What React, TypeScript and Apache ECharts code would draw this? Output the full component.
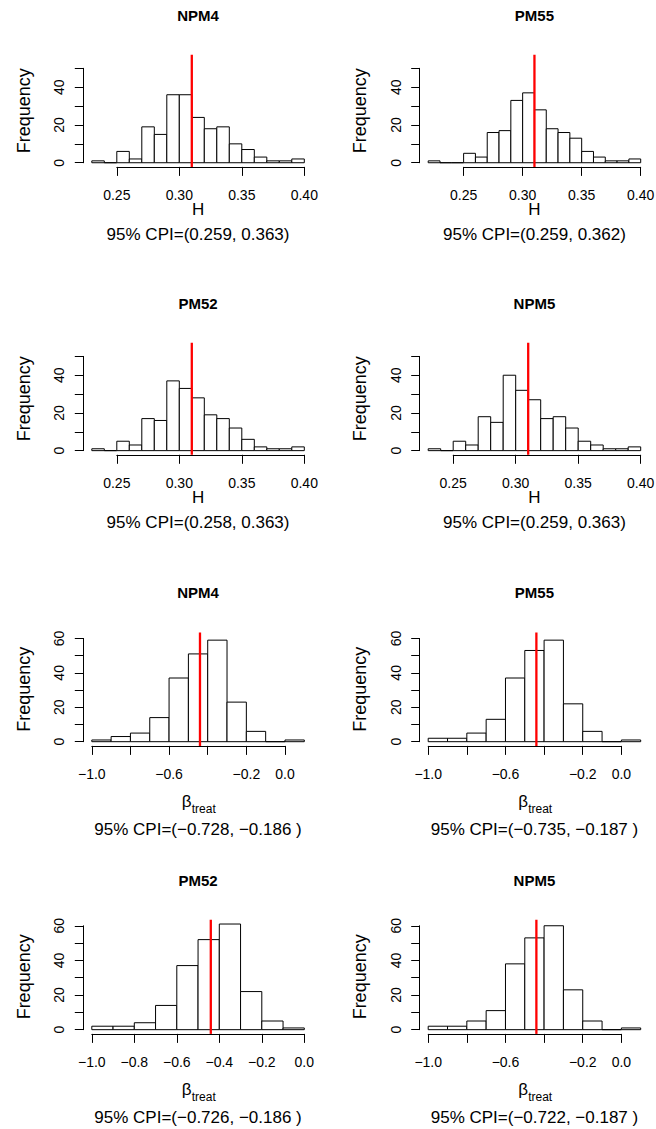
import React, { useEffect, useRef } from "react";
import * as echarts from "echarts";

// ---------- data ----------
const H_BREAKS_023 = [0.23, 0.24, 0.25, 0.26, 0.27, 0.28, 0.29, 0.3, 0.31, 0.32, 0.33, 0.34, 0.35, 0.36, 0.37, 0.38, 0.39, 0.4];
const H_BREAKS_022 = [0.22, 0.23, 0.24, 0.25, 0.26, 0.27, 0.28, 0.29, 0.3, 0.31, 0.32, 0.33, 0.34, 0.35, 0.36, 0.37, 0.38, 0.39, 0.4];
const B_BREAKS_01 = [-1.0, -0.9, -0.8, -0.7, -0.6, -0.5, -0.4, -0.3, -0.2, -0.1, 0.0, 0.1];
const B_BREAKS_00 = [-1.0, -0.9, -0.8, -0.7, -0.6, -0.5, -0.4, -0.3, -0.2, -0.1, 0.0];

const NPM4_H = [1, 0, 6, 2, 19, 15, 36, 36, 24, 18, 19, 10, 7, 3, 1, 1, 2];
const PM55_H = [1, 0, 0, 5, 3, 16, 17, 33, 37, 28, 18, 16, 13, 6, 3, 1, 1, 2];
const PM52_H = [1, 0, 5, 3, 17, 16, 37, 33, 28, 19, 17, 12, 6, 2, 1, 1, 2];
const NPM5_H = [1, 0, 5, 3, 18, 15, 40, 32, 27, 17, 18, 12, 5, 3, 1, 1, 2];

const NPM4_B = [1, 3, 5, 14, 37, 51, 59, 23, 6, 0, 1];
const PM55_B = [2, 2, 5, 13, 37, 53, 59, 22, 6, 0, 1];
const PM52_B = [2, 2, 4, 14, 37, 52, 61, 22, 5, 1];
const NPM5_B = [2, 2, 5, 11, 38, 53, 60, 23, 5, 0, 1];

const H_X_TICKS = [0.25, 0.3, 0.35, 0.4];
const B_X_TICKS = [-1.0, -0.8, -0.6, -0.4, -0.2, 0.0];
const B_X_LABELS_SPARSE = [-1.0, -0.6, -0.2, 0.0];
const H_Y_TICKS = [0, 10, 20, 30, 40, 50];
const H_Y_LABELS = [0, 20, 40];
const B_Y_TICKS = [0, 10, 20, 30, 40, 50, 60];
const B_Y_LABELS = [0, 20, 40, 60];
const H_YLIM = 55;
const B_YLIM = 61;
const H_TRUE = 0.31;
const B_TRUE = -0.44;

const PANEL_TITLES = ["NPM4", "PM55", "PM52", "NPM5", "NPM4", "PM55", "PM52", "NPM5"];
const PANEL_COUNTS = [NPM4_H, PM55_H, PM52_H, NPM5_H, NPM4_B, PM55_B, PM52_B, NPM5_B];
const PANEL_BREAKS = [H_BREAKS_023, H_BREAKS_022, H_BREAKS_023, H_BREAKS_023, B_BREAKS_01, B_BREAKS_01, B_BREAKS_00, B_BREAKS_01];
const CPI_LABELS = [
  "95% CPI=(0.259, 0.363)",
  "95% CPI=(0.259, 0.362)",
  "95% CPI=(0.258, 0.363)",
  "95% CPI=(0.259, 0.363)",
  "95% CPI=(\u22120.728, \u22120.186 )",
  "95% CPI=(\u22120.735, \u22120.187 )",
  "95% CPI=(\u22120.726, \u22120.186 )",
  "95% CPI=(\u22120.722, \u22120.187 )",
];

// ---------- layout ----------
const W = 656;
const HGT = 1129;
const COL_LEFT = [83.3, 419.7];
const PW = 229.5;
const ROW_TOP = [54.7, 342.8, 632.5, 919.8];
const ROW_BOTTOM = [166.9, 454.8, 745.9, 1033.9];
const FONT = '"Liberation Sans", Arial, Helvetica, sans-serif';

function fmt(v: number, d: number) {
  return v.toFixed(d).replace("-", "\u2212");
}

function buildOption() {
  const grid: any[] = [];
  const xAxis: any[] = [];
  const yAxis: any[] = [];
  const series: any[] = [];
  const graphic: any[] = [];

  for (let i = 0; i < 8; i++) {
    const row = Math.floor(i / 2);
    const col = i % 2;
    const isH = row < 2;
    const L = COL_LEFT[col];
    const T = ROW_TOP[row];
    const B = ROW_BOTTOM[row];
    const PH = B - T;
    const breaks = PANEL_BREAKS[i];
    const counts = PANEL_COUNTS[i];
    const xlo = breaks[0];
    const xhi = breaks[breaks.length - 1];
    const xr = xhi - xlo;
    const xmin = xlo - 0.04 * xr;
    const xmax = xhi + 0.04 * xr;
    const ylim = isH ? H_YLIM : B_YLIM;
    const ymin = -0.04 * ylim;
    const ymax = 1.04 * ylim;
    const px = (v: number) => L + ((v - xmin) / (xmax - xmin)) * PW;
    const py = (v: number) => T + ((ymax - v) / (ymax - ymin)) * PH;

    const xTicks = isH ? H_X_TICKS : B_X_TICKS;
    const xLabels = isH ? H_X_TICKS : i === 6 ? B_X_TICKS : B_X_LABELS_SPARSE;
    const yTicks = isH ? H_Y_TICKS : B_Y_TICKS;
    const yLabels = isH ? H_Y_LABELS : B_Y_LABELS;
    const digits = isH ? 2 : 1;

    const g0 = i * 3;
    // data grid
    grid.push({ left: L, top: T, width: PW, height: PH, outerBoundsMode: "none", containLabel: false });
    // x axis grid
    const xl = px(xTicks[0]);
    const xrgt = px(xTicks[xTicks.length - 1]);
    grid.push({ left: xl, top: T, width: xrgt - xl, height: PH, outerBoundsMode: "none", containLabel: false });
    // y axis grid
    const yt = py(yTicks[yTicks.length - 1]);
    const yb = py(0);
    grid.push({ left: L, top: yt, width: PW, height: yb - yt, outerBoundsMode: "none", containLabel: false });

    xAxis.push({ type: "value", gridIndex: g0, min: xmin, max: xmax, show: false });
    yAxis.push({ type: "value", gridIndex: g0, min: ymin, max: ymax, show: false });

    xAxis.push({
      type: "value",
      gridIndex: g0 + 1,
      position: "bottom",
      min: xTicks[0],
      max: xTicks[xTicks.length - 1],
      splitLine: { show: false },
      axisLine: { show: true, lineStyle: { color: "#000", width: 1 } },
      axisTick: { show: true, length: 9, customValues: xTicks, lineStyle: { color: "#000", width: 1 } },
      axisLabel: {
        show: true,
        customValues: xLabels,
        margin: 21.5,
        fontSize: 14,
        lineHeight: 14,
        fontFamily: FONT,
        color: "#000",
        formatter: (v: number) => fmt(v, digits),
      },
    });
    yAxis.push({ type: "value", gridIndex: g0 + 1, min: 0, max: 1, show: false });

    xAxis.push({ type: "value", gridIndex: g0 + 2, min: 0, max: 1, show: false });
    yAxis.push({
      type: "value",
      gridIndex: g0 + 2,
      position: "left",
      min: 0,
      max: yTicks[yTicks.length - 1],
      splitLine: { show: false },
      axisLine: { show: true, lineStyle: { color: "#000", width: 1 } },
      axisTick: { show: true, length: 8.5, customValues: yTicks, lineStyle: { color: "#000", width: 1 } },
      axisLabel: {
        show: true,
        customValues: yLabels,
        rotate: 90,
        margin: 17,
        fontSize: 14,
        lineHeight: 14,
        fontFamily: FONT,
        color: "#000",
        formatter: (v: number) => String(v),
      },
    });

    const binData = counts.map((c, k) => [breaks[k], breaks[k + 1], c]);
    series.push({
      type: "custom",
      xAxisIndex: g0,
      yAxisIndex: g0,
      data: binData,
      encode: { x: [0, 1], y: 2 },
      clip: false,
      renderItem: (params: any, api: any) => {
        const lo = api.value(0);
        const hi = api.value(1);
        const n = api.value(2);
        const p0 = api.coord([lo, 0]);
        const p1 = api.coord([hi, n]);
        return {
          type: "rect",
          shape: { x: p0[0], y: p1[1], width: p1[0] - p0[0], height: p0[1] - p1[1] },
          style: { fill: "#fff", stroke: "#000", lineWidth: 1 },
        };
      },
      z: 2,
    });
    const tv = isH ? H_TRUE : B_TRUE;
    series.push({
      type: "line",
      xAxisIndex: g0,
      yAxisIndex: g0,
      data: [
        [tv, ymin],
        [tv, ymax],
      ],
      symbol: "none",
      lineStyle: { color: "#ff0000", width: 2.3 },
      z: 5,
      silent: true,
    });

    const cx = L + PW / 2;
    graphic.push({
      type: "text",
      x: cx,
      y: T - 39.7,
      style: { text: PANEL_TITLES[i], fontSize: 15, fontWeight: "bold", fontFamily: FONT, fill: "#000", align: "center", verticalAlign: "middle" },
    });
    graphic.push({
      type: "text",
      x: L - 59.3,
      y: (T + B) / 2,
      rotation: Math.PI / 2,
      style: { text: "Frequency", fontSize: 18, fontFamily: FONT, fill: "#000", align: "center", verticalAlign: "middle" },
    });
    if (isH) {
      graphic.push({
        type: "text",
        x: cx,
        y: B + 42.8,
        style: { text: "H", fontSize: 17, fontFamily: FONT, fill: "#000", align: "center", verticalAlign: "middle" },
      });
      graphic.push({
        type: "text",
        x: cx,
        y: B + 68,
        style: { text: CPI_LABELS[i], fontSize: 17, fontFamily: FONT, fill: "#000", align: "center", verticalAlign: "middle" },
      });
    } else {
      graphic.push({
        type: "text",
        x: cx - 16.3,
        y: B + 55.5,
        style: { text: "\u03b2", fontSize: 17, fontFamily: FONT, fill: "#000", align: "left", verticalAlign: "middle" },
      });
      graphic.push({
        type: "text",
        x: cx - 6.3,
        y: B + 63,
        style: { text: "treat", fontSize: 12, fontFamily: FONT, fill: "#000", align: "left", verticalAlign: "middle" },
      });
      graphic.push({
        type: "text",
        x: cx,
        y: B + 84,
        style: { text: CPI_LABELS[i], fontSize: 17, fontFamily: FONT, fill: "#000", align: "center", verticalAlign: "middle" },
      });
    }
  }

  return {
    animation: false,
    backgroundColor: "#fff",
    grid,
    xAxis,
    yAxis,
    series,
    graphic,
  };
}

export default function App() {
  const ref = useRef<HTMLDivElement>(null);
  useEffect(() => {
    if (!ref.current) return;
    const chart = echarts.init(ref.current, undefined, { renderer: "svg" });
    chart.setOption(buildOption() as any);
    return () => chart.dispose();
  }, []);
  return <div ref={ref} style={{ position: "absolute", left: 0, top: 0, width: W, height: HGT, background: "#fff" }} />;
}
